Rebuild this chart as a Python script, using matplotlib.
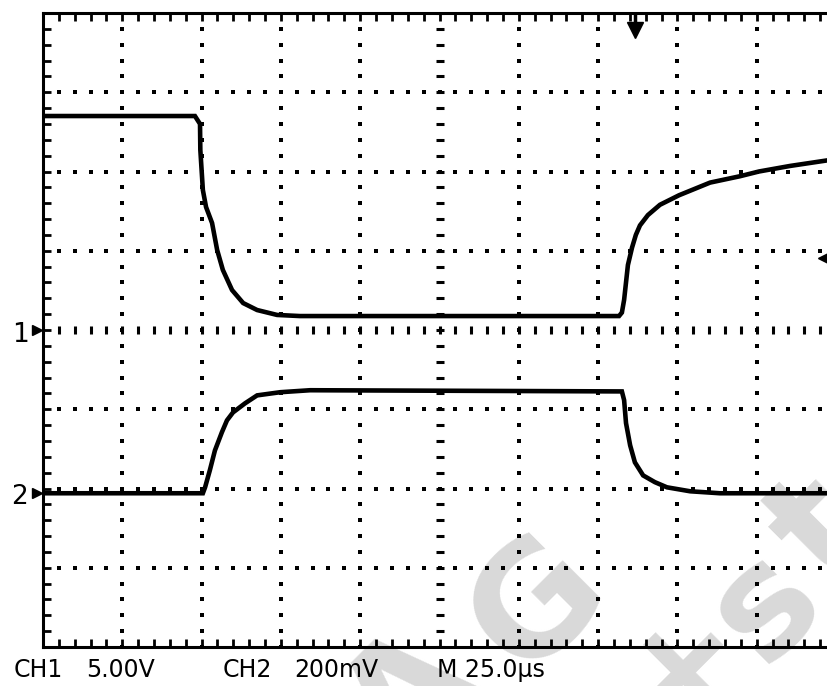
import matplotlib.pyplot as plt
import numpy as np

# scope settings
ch1_scale = 5.0      # V/div
ch2_scale = 200.0    # mV/div
time_scale = 25.0    # us/div
ch1_offset = 0.0     # divs (marker "1")
ch2_offset = -2.06   # divs (marker "2")
trig_time = 186.6    # us
trig_level = 0.91    # divs

# CH1 trace (us, V)
ch1_t = [0.0, 47.9, 49.5, 49.6, 50.4, 51.4, 53.3, 54.9, 56.7, 59.6, 63.1,
         67.5, 73.8, 81.0, 181.6, 182.5, 183.2, 183.8, 184.4, 185.7, 186.9,
         188.2, 190.7, 194.5, 200.5, 210.3, 219.7, 225.7, 235.5, 247.2]
ch1_v = [13.5, 13.5, 13.0, 11.36, 8.83, 7.76, 6.75, 5.05, 3.79, 2.52, 1.70,
         1.26, 0.95, 0.88, 0.88, 1.1, 1.9, 3.0, 4.1, 5.2, 6.0,
         6.6, 7.25, 7.9, 8.5, 9.3, 9.7, 10.0, 10.35, 10.7]

# CH2 trace (us, mV)
ch2_t = [0.0, 50.4, 51.1, 52.6, 54.2, 56.4, 58.0, 59.9, 63.7, 67.5, 74.8,
         84.2, 182.5, 183.2, 183.8, 185.1, 186.6, 189.2, 192.9, 196.7, 204.0,
         213.4, 247.2]
ch2_v = [0.0, 0.0, 15, 58, 108, 154, 184, 204, 227, 247, 255,
         260, 257, 235, 177, 121, 78, 45, 28, 15, 5,
         0.0, 0.0]

W, H = 827, 686
fig = plt.figure(figsize=(W / 100, H / 100), dpi=100)
fig.patch.set_facecolor('white')

x0, y0, y1 = 43, 13, 647
ax = fig.add_axes([x0 / W, (H - y1) / H, 10 * 79.3 / W, (y1 - y0) / H])
ax.set_xlim(0, 10 * time_scale)
ax.set_ylim(-4, 4)
ax.set_facecolor('none')
ax.set_zorder(2)

# watermark (behind the axes)
wm = dict(color='#d9d9d9', fontsize=110, fontweight='bold', rotation=45,
          ha='center', va='center', zorder=-5, family='DejaVu Sans')
for s, px, py in [('A', 412, 700), ('G', 538, 605), ('+', 683, 665),
                  ('s', 765, 605), ('t', 822, 530)]:
    fig.text(px / W, 1 - py / H, s, **wm)

# graticule dots
yy = np.arange(-4, 4.001, 0.2)
xx = np.arange(0, 250.1, 5)
dot = dict(ls='none', marker='s', ms=2.4, color='black', mew=0, zorder=2)
for k in range(1, 10):
    if k == 5:
        continue
    ax.plot(np.full_like(yy, k * time_scale), yy, **dot)
for k in [-3, -2, -1, 1, 2, 3]:
    ax.plot(xx, np.full_like(xx, k), **dot)
# centre cross
ax.plot(np.full_like(yy, 5 * time_scale), yy, ls='none', marker='_',
        ms=6, mew=2.2, color='black', zorder=2)
ax.plot(xx, np.zeros_like(xx), ls='none', marker='|',
        ms=6, mew=2.2, color='black', zorder=2)

# traces
ax.plot(ch1_t, np.array(ch1_v) / ch1_scale + ch1_offset,
        color='black', lw=3.3, solid_joinstyle='miter', zorder=3)
ax.plot(ch2_t, np.array(ch2_v) / ch2_scale + ch2_offset,
        color='black', lw=3.3, solid_joinstyle='miter', zorder=3)

# border with inward ticks
for sp in ax.spines.values():
    sp.set_linewidth(2.2)
ax.set_xticks(xx)
ax.set_yticks(yy)
ax.tick_params(direction='in', length=5.5, width=2.0, top=True, bottom=True,
               left=True, right=False, labelbottom=False, labelleft=False)

# markers
ax.plot([-1.9], [ch1_offset], marker='>', ms=7, color='black', clip_on=False, zorder=4)
ax.plot([-1.9], [ch2_offset], marker='>', ms=7, color='black', clip_on=False, zorder=4)
ax.plot([trig_time], [3.78], marker='v', ms=11, color='black', clip_on=False, zorder=4)
ax.plot([trig_time, trig_time], [3.8, 4.0], color='black', lw=2.5, zorder=4)
ax.plot([247.0], [trig_level], marker='<', ms=11, color='black', clip_on=False, zorder=4)

mk = dict(fontsize=19, family='DejaVu Sans', color='black', va='baseline')
fig.text(12 / W, 1 - 342 / H, '1', **mk)
fig.text(11 / W, 1 - 504 / H, '2', **mk)

txt = dict(fontsize=17, family='DejaVu Sans', color='black', va='baseline')
for s, px in [('CH1', 14), ('5.00V', 86), ('CH2', 223), ('200mV', 294),
              ('M 25.0µs', 437)]:
    fig.text(px / W, 1 - 677 / H, s, **txt)

fig.savefig('out.png', dpi=100)
